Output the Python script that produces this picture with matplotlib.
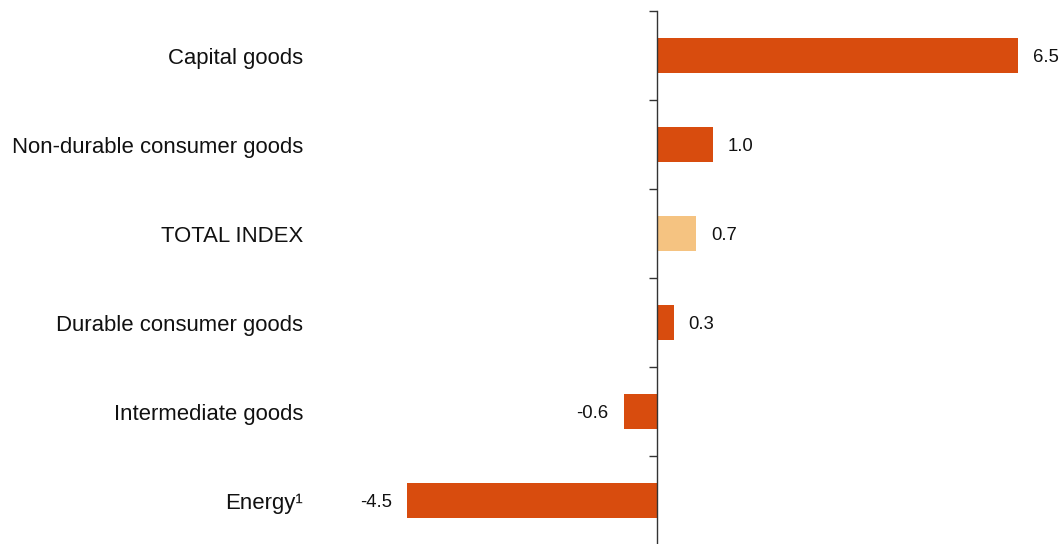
import matplotlib.pyplot as plt
import matplotlib.transforms as mtransforms

plt.rcParams['font.family'] = ['Liberation Sans', 'DejaVu Sans']

categories = ['Capital goods', 'Non-durable consumer goods', 'TOTAL INDEX',
              'Durable consumer goods', 'Intermediate goods', 'Energy\u00b9']
values = [6.5, 1.0, 0.7, 0.3, -0.6, -4.5]
value_labels = ['6.5', '1.0', '0.7', '0.3', '-0.6', '-4.5']

orange = '#D84C0E'
light = '#F5C381'
colors = [light if c == 'TOTAL INDEX' else orange for c in categories]

W, H = 1063, 544
fig = plt.figure(figsize=(W / 100, H / 100), dpi=100)
# axes in pixel terms: x 330..1063, y 11..545
ax = fig.add_axes([330 / W, -1 / H, 733 / W, 534 / H])

pos = list(range(len(categories)))
ax.barh(pos, values, height=0.4, color=colors)
ax.set_ylim(len(categories) - 0.5, -0.5)
ax.set_xlim((330 - 657) / 55.5, (1063 - 657) / 55.5)

for s in ['top', 'right', 'bottom']:
    ax.spines[s].set_visible(False)
ax.spines['left'].set_position(('data', 0))
ax.spines['left'].set_color('#333333')
ax.spines['left'].set_linewidth(1)
ax.set_xticks([])
ax.set_yticks([p - 0.5 for p in pos] + [len(categories) - 0.5])
ax.set_yticklabels([])
ax.tick_params(axis='y', direction='out', length=6, color='#333333', width=1)

# value labels, baseline set so the caps sit centred on the bar
off = 15 / 55.5
for p, v, lab in zip(pos, values, value_labels):
    y = p + 0.075
    if v >= 0:
        ax.text(v + off, y, lab, ha='left', va='baseline', fontsize=13.3, color='#111111')
    else:
        ax.text(v - off, y, lab, ha='right', va='baseline', fontsize=13.3, color='#111111')

trans = mtransforms.blended_transform_factory(fig.transFigure, ax.transData)
for p, c in zip(pos, categories):
    ax.text(303 / W, p + 0.09, c, transform=trans, ha='right', va='baseline',
            fontsize=15.9, color='#111111')

fig.savefig('out.png', dpi=100)
